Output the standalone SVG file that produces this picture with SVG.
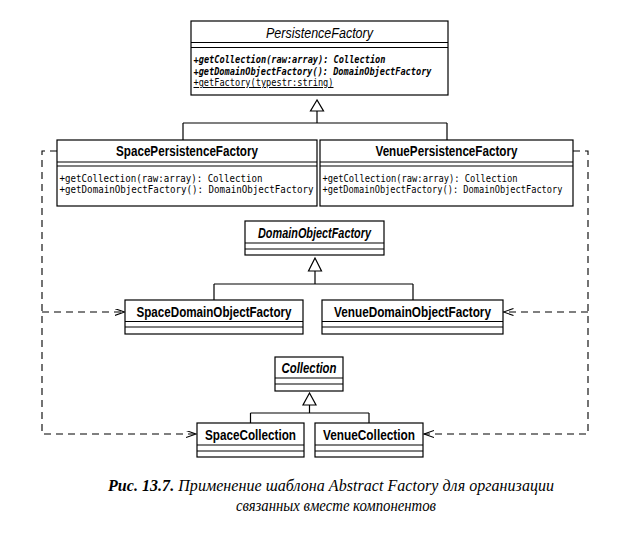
<svg xmlns="http://www.w3.org/2000/svg" width="626" height="543" viewBox="0 0 626 543">
<style>
.box{fill:#fff;stroke:#000;stroke-width:1.2}
.ln{stroke:#000;stroke-width:1.2;fill:none}
.tri{fill:#fff;stroke:#000;stroke-width:1.2}
.dash{stroke:#000;stroke-width:1.1;fill:none;stroke-dasharray:7 5}
.t{font-family:"Liberation Sans",Arial,sans-serif;font-weight:bold;font-size:15.5px;text-anchor:middle;fill:#000}
.ti{font-style:italic}
.tn{font-weight:normal}
.m{font-family:"DejaVu Sans Mono","Liberation Mono",monospace;font-size:10px;fill:#000}
.mb{font-weight:bold;font-style:italic}
.cap{font-family:"Liberation Serif","Times New Roman",serif;font-style:italic;font-size:16px;fill:#000}
</style>
<defs>
<marker id="open" markerUnits="userSpaceOnUse" markerWidth="12" markerHeight="10" refX="10" refY="3.5" orient="auto">
<path d="M0,0 L10,3.5 L0,7" fill="none" stroke="#000" stroke-width="1.1"/>
</marker>
</defs>
<rect width="626" height="543" fill="#fff"/>

<g id="connectors">
<polygon class="tri" points="317,100 310.5,111 323.5,111"/>
<path class="ln" d="M317,111 V123 M183,123 H447 M183,123 V140 M447,123 V140"/>
<polygon class="tri" points="315,258 308.5,271 321.5,271"/>
<path class="ln" d="M315,271 V284 M214,284 H413 M214,284 V300 M413,284 V300"/>
<polygon class="tri" points="309.5,393 303,405 316,405"/>
<path class="ln" d="M309.5,405 V413 M250.5,413 H369 M250.5,413 V423 M369,413 V423"/>
<path class="dash" d="M57,151 H42 V434 H196" marker-end="url(#open)"/>
<path class="dash" d="M42,312 H124.5" marker-end="url(#open)"/>
<path class="dash" d="M573,151 H588 V434 H424" marker-end="url(#open)"/>
<path class="dash" d="M588,312 H503.5" marker-end="url(#open)"/>
</g>

<g id="PersistenceFactory">
<rect class="box" x="191" y="21" width="257" height="74"/>
<path class="ln" d="M191,42.5 H448 M191,47.5 H448"/>
<text class="t ti tn" x="319.5" y="38" textLength="107" lengthAdjust="spacingAndGlyphs">PersistenceFactory</text>
<text class="m mb" x="193.5" y="62.5" textLength="192" lengthAdjust="spacingAndGlyphs">+getCollection(raw:array): Collection</text>
<text class="m mb" x="193.5" y="74.5" textLength="238" lengthAdjust="spacingAndGlyphs">+getDomainObjectFactory(): DomainObjectFactory</text>
<text class="m" x="193.5" y="86" textLength="140" lengthAdjust="spacingAndGlyphs" text-decoration="underline">+getFactory(typestr:string)</text>
</g>

<g id="SpacePersistenceFactory">
<rect class="box" x="57" y="140" width="260" height="66"/>
<path class="ln" d="M57,162 H317 M57,166 H317"/>
<text class="t" x="187" y="156" textLength="142" lengthAdjust="spacingAndGlyphs">SpacePersistenceFactory</text>
<text class="m" x="59.5" y="182" textLength="203" lengthAdjust="spacingAndGlyphs">+getCollection(raw:array): Collection</text>
<text class="m" x="59.5" y="193" textLength="254" lengthAdjust="spacingAndGlyphs">+getDomainObjectFactory(): DomainObjectFactory</text>
</g>

<g id="VenuePersistenceFactory">
<rect class="box" x="320" y="140" width="253" height="66"/>
<path class="ln" d="M320,162 H573 M320,166 H573"/>
<text class="t" x="446.5" y="156" textLength="142" lengthAdjust="spacingAndGlyphs">VenuePersistenceFactory</text>
<text class="m" x="322.5" y="182" textLength="195" lengthAdjust="spacingAndGlyphs">+getCollection(raw:array): Collection</text>
<text class="m" x="322.5" y="193" textLength="240" lengthAdjust="spacingAndGlyphs">+getDomainObjectFactory(): DomainObjectFactory</text>
</g>

<g id="DomainObjectFactory">
<rect class="box" x="245" y="221" width="139" height="34"/>
<path class="ln" d="M245,243 H384 M245,249 H384"/>
<text class="t ti" x="314.5" y="237.5" textLength="113" lengthAdjust="spacingAndGlyphs">DomainObjectFactory</text>
</g>

<g id="SpaceDomainObjectFactory">
<rect class="box" x="125" y="300" width="178" height="34"/>
<path class="ln" d="M125,321.5 H303 M125,327 H303"/>
<text class="t" x="214" y="316.5" textLength="155" lengthAdjust="spacingAndGlyphs">SpaceDomainObjectFactory</text>
</g>

<g id="VenueDomainObjectFactory">
<rect class="box" x="322" y="300" width="181" height="34"/>
<path class="ln" d="M322,321.5 H503 M322,327 H503"/>
<text class="t" x="412.5" y="316.5" textLength="157" lengthAdjust="spacingAndGlyphs">VenueDomainObjectFactory</text>
</g>

<g id="Collection">
<rect class="box" x="275" y="357" width="68" height="34"/>
<path class="ln" d="M275,378 H343 M275,384 H343"/>
<text class="t ti" x="309" y="373" textLength="55" lengthAdjust="spacingAndGlyphs">Collection</text>
</g>

<g id="SpaceCollection">
<rect class="box" x="197" y="423" width="107" height="34"/>
<path class="ln" d="M197,445 H304 M197,451 H304"/>
<text class="t" x="250.5" y="439.5" textLength="91" lengthAdjust="spacingAndGlyphs">SpaceCollection</text>
</g>

<g id="VenueCollection">
<rect class="box" x="315" y="423" width="108" height="34"/>
<path class="ln" d="M315,445 H423 M315,451 H423"/>
<text class="t" x="369" y="439.5" textLength="92" lengthAdjust="spacingAndGlyphs">VenueCollection</text>
</g>

<g id="caption">
<text class="cap" x="108" y="491" textLength="446" lengthAdjust="spacing"><tspan font-weight="bold">Рис. 13.7.</tspan> Применение шаблона Abstract Factory для организации</text>
<text class="cap" x="336" y="511" text-anchor="middle" textLength="200" lengthAdjust="spacingAndGlyphs">связанных вместе компонентов</text>
</g>
</svg>
